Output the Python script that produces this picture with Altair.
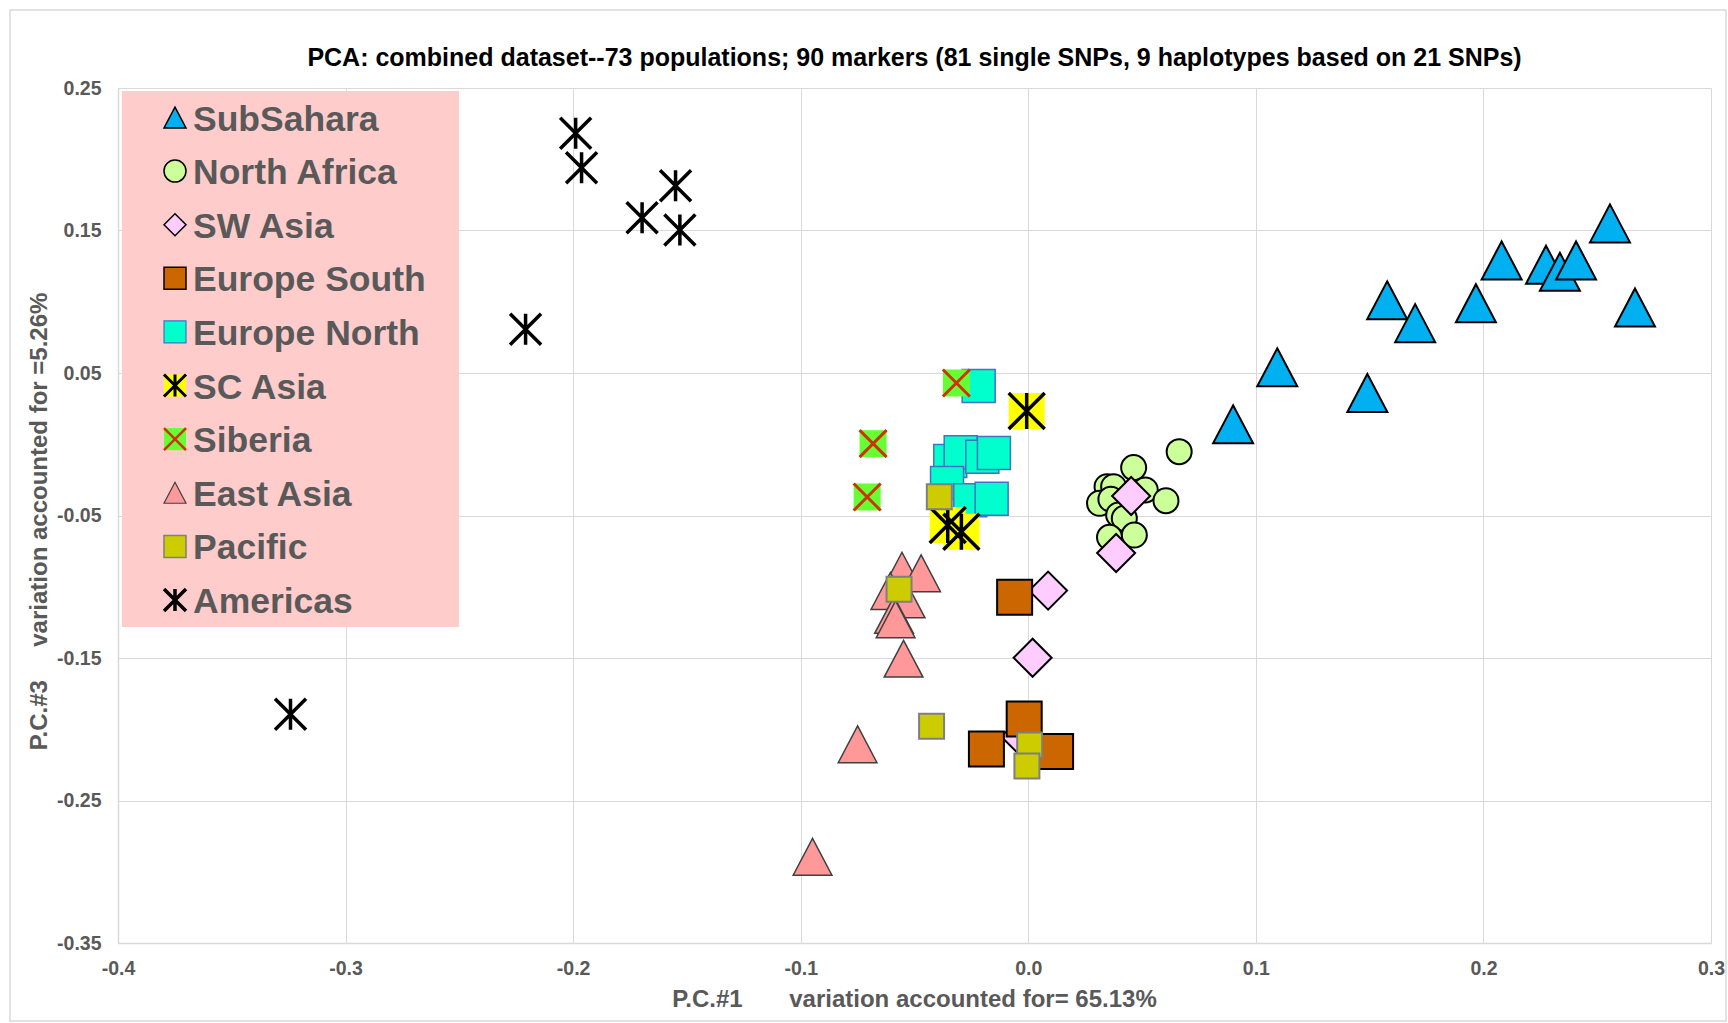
import altair as alt
import pandas as pd

FONT = "Liberation Sans"

REGIONS = ["SubSahara", "North Africa", "SW Asia", "Europe South", "Europe North",
           "SC Asia", "Siberia", "East Asia", "Pacific", "Americas"]

SUBSAHARA_X = [0.2556, 0.2080, 0.2275, 0.2336, 0.2407, 0.2666, 0.1577, 0.1700, 0.1967, 0.1094, 0.0900, 0.1490]
SUBSAHARA_Y = [0.155, 0.129, 0.126, 0.121, 0.129, 0.096, 0.101, 0.085, 0.099, 0.054, 0.014, 0.036]

NAFRICA_X = [0.0663, 0.0463, 0.0346, 0.0375, 0.0514, 0.0605, 0.0313, 0.0363, 0.0397, 0.0422, 0.0357, 0.0466]
NAFRICA_Y = [-0.0052, -0.0164, -0.0298, -0.0298, -0.0321, -0.0396, -0.0414, -0.0386, -0.0496, -0.0520, -0.0653, -0.0637]

SWASIA_X = [-0.0035, 0.0452, 0.0386, 0.0087, 0.0019]
SWASIA_Y = [-0.2052, -0.0363, -0.0763, -0.1027, -0.1498]

EUSOUTH_X = [-0.0060, -0.0018, -0.0184, 0.0120]
EUSOUTH_Y = [-0.1074, -0.1928, -0.2139, -0.2157]

EUNORTH_X = [-0.0218, -0.0343, -0.0297, -0.0202, -0.0151, -0.0357, -0.0255, -0.0161]
EUNORTH_Y = [0.0409, -0.0118, -0.0057, -0.0087, -0.0061, -0.0272, -0.0393, -0.0382]

SCASIA_X = [-0.0007, -0.0354, -0.0294]
SCASIA_Y = [0.0233, -0.0567, -0.0614]

SIBERIA_X = [-0.0316, -0.0682, -0.0708]
SIBERIA_Y = [0.0430, 0.0004, -0.0370]

EASTASIA_X = [-0.0555, -0.0471, -0.0606, -0.0539, -0.0590, -0.0583, -0.0548, -0.0750, -0.0948]
EASTASIA_Y = [-0.0887, -0.0906, -0.1030, -0.1089, -0.1198, -0.1228, -0.1505, -0.2106, -0.2895]

PACIFIC_X = [-0.0391, -0.0568, -0.0425, 0.0006, -0.0006]
PACIFIC_Y = [-0.0368, -0.1018, -0.1979, -0.2111, -0.2258]

AMERICAS_X = [-0.1989, -0.1963, -0.1697, -0.1550, -0.1531, -0.2209, -0.3242]
AMERICAS_Y = [0.2182, 0.1941, 0.1590, 0.1814, 0.1504, 0.0807, -0.1894]

SERIES_X = [SUBSAHARA_X, NAFRICA_X, SWASIA_X, EUSOUTH_X, EUNORTH_X,
            SCASIA_X, SIBERIA_X, EASTASIA_X, PACIFIC_X, AMERICAS_X]
SERIES_Y = [SUBSAHARA_Y, NAFRICA_Y, SWASIA_Y, EUSOUTH_Y, EUNORTH_Y,
            SCASIA_Y, SIBERIA_Y, EASTASIA_Y, PACIFIC_Y, AMERICAS_Y]

X_TICKS = [-0.4, -0.3, -0.2, -0.1, 0.0, 0.1, 0.2, 0.3]
Y_TICKS = [-0.35, -0.25, -0.15, -0.05, 0.05, 0.15, 0.25]

TITLE = "PCA: combined dataset--73 populations; 90 markers (81 single SNPs, 9 haplotypes based on 21 SNPs)"
X_TITLE = "P.C.#1" + "\u00a0" * 7 + "variation accounted for= 65.13%"
Y_TITLE = "P.C.#3" + "\u00a0" * 5 + "variation accounted for =5.26%"

# ---- styles ----
TRI = "M0,-0.95L1,0.95L-1,0.95Z"
ASTER = "M0,-1L0,1M-1,-1L1,1M-1,1L1,-1"
XMARK = "M-1,-1L1,1M-1,1L1,-1"
SHAPES = [TRI, "circle", "diamond", "square", "square", ASTER, XMARK, TRI, "square", ASTER]
FILLS = ["#00B0F0", "#CCFF99", "#FFCCFF", "#CC6600", "#00FFCC",
         "#FFFF00", "#66FF33", "#FF9999", "#CCCC00", "#000000"]
STROKES = ["#000000", "#000000", "#000000", "#000000", "#4472C4",
           "#000000", "#CC3300", "#404040", "#7F7F7F", "#000000"]
SIZES = {"SubSahara": 1600, "North Africa": 625, "SW Asia": 1444, "Europe South": 1225,
         "Europe North": 1089, "SC Asia": 1296, "Siberia": 729, "East Asia": 1500,
         "Pacific": 625, "Americas": 961}
WIDTHS = {"SubSahara": 2, "North Africa": 2, "SW Asia": 2, "Europe South": 2,
          "Europe North": 1.5, "SC Asia": 3.5, "Siberia": 3, "East Asia": 1.5,
          "Pacific": 2, "Americas": 3.5}
LEG_WIDTHS = {"SubSahara": 1.5, "North Africa": 1.5, "SW Asia": 1.5, "Europe South": 1.5,
              "Europe North": 1.2, "SC Asia": 3, "Siberia": 2.5, "East Asia": 1.2,
              "Pacific": 1.5, "Americas": 3.5}
BACKED = ["SC Asia", "Siberia"]

rows = []
for reg, xs, ys in zip(REGIONS, SERIES_X, SERIES_Y):
    for xv, yv in zip(xs, ys):
        rows.append({"region": reg, "x": xv, "y": yv, "size": SIZES[reg], "sw": WIDTHS[reg]})
df = pd.DataFrame(rows)
df_a = df[df.region.isin(REGIONS[:5])]
df_bg = df[df.region.isin(BACKED)]
df_c = df[df.region.isin(REGIONS[5:])]

df_leg = pd.DataFrame({"region": REGIONS, "sw": [LEG_WIDTHS[r] for r in REGIONS]})
df_leg_bg = df_leg[df_leg.region.isin(BACKED)]

GRID = "#D9D9D9"
LABEL_C = "#595959"

xscale = alt.Scale(domain=[-0.4, 0.3], nice=False, zero=False)
yscale = alt.Scale(domain=[-0.35, 0.25], nice=False, zero=False)

xaxis = alt.Axis(values=X_TICKS, labelExpr="replace(format(datum.value, '.1f'), '\u2212', '-')",
                 grid=True, gridColor=GRID, gridWidth=1, domainColor=GRID, domainWidth=1.5,
                 ticks=False, labelPadding=16, labelFont=FONT, labelFontSize=19.5,
                 labelFontWeight="bold", labelColor=LABEL_C, labelFlush=False, labelOverlap=False,
                 title=X_TITLE, titleFont=FONT, titleFontSize=24, titleFontWeight="bold",
                 titleColor=LABEL_C, titleX=796, titleY=56, titleAlign="center",
                 titleBaseline="middle")
yaxis = alt.Axis(values=Y_TICKS, labelExpr="replace(format(datum.value, '.2f'), '\u2212', '-')",
                 grid=True, gridColor=GRID, gridWidth=1, domainColor=GRID, domainWidth=1.5,
                 ticks=False, labelPadding=17, labelFont=FONT, labelFontSize=19.5,
                 labelFontWeight="bold", labelColor=LABEL_C, labelFlush=False, labelOverlap=False,
                 title=Y_TITLE, titleFont=FONT, titleFontSize=24, titleFontWeight="bold",
                 titleColor=LABEL_C, titleX=-79, titleY=433, titleAngle=270,
                 titleAlign="center", titleBaseline="middle")

shape_enc = alt.Shape("region:N", scale=alt.Scale(domain=REGIONS, range=SHAPES), legend=None)
fill_enc = alt.Fill("region:N", scale=alt.Scale(domain=REGIONS, range=FILLS), legend=None)
stroke_enc = alt.Stroke("region:N", scale=alt.Scale(domain=REGIONS, range=STROKES), legend=None)
x_enc = alt.X("x:Q", scale=xscale, axis=xaxis)
y_enc = alt.Y("y:Q", scale=yscale, axis=yaxis)

layer_a = alt.Chart(df_a).mark_point(opacity=1, filled=True).encode(
    x=x_enc, y=y_enc, shape=shape_enc, fill=fill_enc, stroke=stroke_enc,
    size=alt.Size("size:Q", scale=None), strokeWidth=alt.StrokeWidth("sw:Q", scale=None))
layer_b = alt.Chart(df_bg).mark_point(opacity=1, filled=True, shape="square", strokeWidth=0).encode(
    x=x_enc, y=y_enc, fill=fill_enc, size=alt.Size("size:Q", scale=None))
layer_c = alt.Chart(df_c).mark_point(opacity=1, filled=True).encode(
    x=x_enc, y=y_enc, shape=shape_enc, fill=fill_enc, stroke=stroke_enc,
    size=alt.Size("size:Q", scale=None), strokeWidth=alt.StrokeWidth("sw:Q", scale=None))
main = alt.layer(layer_a, layer_b, layer_c)

# ---- legend (drawn inside the plot, top-left) ----
leg_y = alt.Y("region:N", scale=alt.Scale(type="point", domain=REGIONS, range=[29.5, 512], padding=0),
              axis=None)
leg_box = alt.Chart(pd.DataFrame({"a": [0]})).mark_rect(fill="#FFCCCC").encode(
    x=alt.value(4), x2=alt.value(341), y=alt.value(3), y2=alt.value(539))
leg_bg = alt.Chart(df_leg_bg).mark_point(opacity=1, filled=True, shape="square", size=484,
                                         strokeWidth=0).encode(
    x=alt.value(57), y=leg_y, fill=fill_enc)
leg_sym = alt.Chart(df_leg).mark_point(opacity=1, filled=True, size=484).encode(
    x=alt.value(57), y=leg_y, shape=shape_enc, fill=fill_enc, stroke=stroke_enc,
    strokeWidth=alt.StrokeWidth("sw:Q", scale=None))
leg_txt = alt.Chart(df_leg).mark_text(align="left", baseline="middle", font=FONT, fontSize=35.5,
                                      fontWeight="bold", color=LABEL_C, dy=2).encode(
    x=alt.value(75), y=leg_y, text="region:N")
legend = alt.layer(leg_box, leg_bg, leg_sym, leg_txt)

border = alt.Chart(pd.DataFrame({"a": [0]})).mark_rect(fillOpacity=0, stroke=GRID, strokeWidth=1.5).encode(
    x=alt.value(-108), x2=alt.value(1608), y=alt.value(-78), y2=alt.value(933))

chart = alt.layer(border, main, legend).resolve_scale(y="independent").properties(
    width=1593, height=855,
    padding={"left": 118, "top": 88, "right": 17, "bottom": 80},
    autosize=alt.AutoSizeParams(type="none"),
    background="white",
    title=alt.TitleParams(text=TITLE, font=FONT, fontSize=25, fontWeight="bold", color="#000000",
                          anchor="middle", offset=17, dy=79),
).configure_view(stroke=None)

chart.save("out.html", embed_options={"renderer": "svg", "actions": False})
